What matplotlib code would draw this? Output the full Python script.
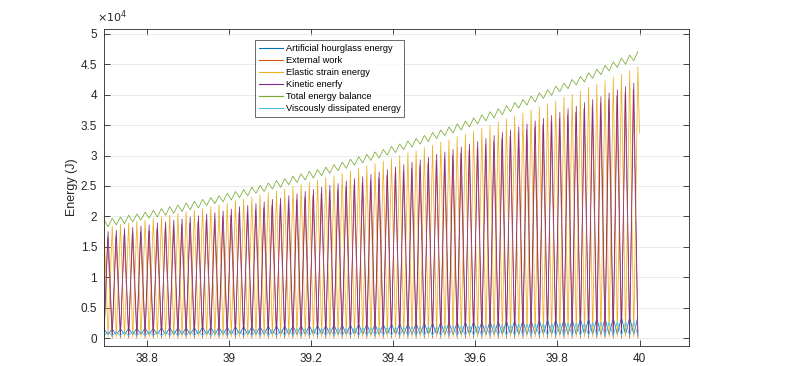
import matplotlib
matplotlib.use("Agg")
import matplotlib.pyplot as plt
import numpy as np

plt.rcParams['font.family'] = ['Liberation Sans', 'DejaVu Sans']

# energies, in units of 1e4 J
# one value per oscillation cycle (period 0.02 s)
t_first = 38.696
t_end = 40.0

elastic_peaks = [1.82, 1.84, 1.87, 1.89, 1.92, 1.94, 1.97, 1.99, 2.02, 2.05,
                 2.08, 2.10, 2.13, 2.16, 2.19, 2.22, 2.26, 2.29, 2.32, 2.35,
                 2.39, 2.42, 2.45, 2.49, 2.53, 2.56, 2.60, 2.64, 2.67, 2.71,
                 2.75, 2.79, 2.83, 2.87, 2.91, 2.95, 3.00, 3.04, 3.08, 3.13,
                 3.17, 3.22, 3.26, 3.31, 3.35, 3.40, 3.45, 3.50, 3.55, 3.60,
                 3.65, 3.70, 3.75, 3.80, 3.85, 3.90, 3.96, 4.01, 4.06, 4.12,
                 4.17, 4.23, 4.29, 4.34, 4.40, 4.46]
elastic_floor = 0.02
elastic_last = 3.37

kinetic_peaks = [1.75, 1.77, 1.80, 1.82, 1.84, 1.86, 1.89, 1.91, 1.94, 1.96,
                 1.99, 2.01, 2.04, 2.06, 2.09, 2.12, 2.16, 2.18, 2.21, 2.24,
                 2.28, 2.30, 2.34, 2.37, 2.41, 2.44, 2.48, 2.51, 2.54, 2.58,
                 2.62, 2.65, 2.69, 2.73, 2.77, 2.81, 2.85, 2.89, 2.93, 2.97,
                 3.02, 3.06, 3.10, 3.14, 3.19, 3.23, 3.28, 3.33, 3.38, 3.42,
                 3.47, 3.52, 3.57, 3.61, 3.66, 3.71, 3.77, 3.81, 3.87, 3.92,
                 3.97, 4.03, 4.08, 4.13, 4.19]
kinetic_floor = 0.05

external_peaks = [1.65, 1.67, 1.70, 1.72, 1.74, 1.76, 1.79, 1.81, 1.84, 1.86,
                  1.89, 1.91, 1.94, 1.96, 1.99, 2.02, 2.06, 2.08, 2.11, 2.14,
                  2.18, 2.20, 2.24, 2.27, 2.31, 2.34, 2.38, 2.41, 2.44, 2.48,
                  2.52, 2.55, 2.59, 2.63, 2.67, 2.71, 2.75, 2.79, 2.83, 2.87,
                  2.92, 2.96, 3.00, 3.04, 3.09, 3.13, 3.18, 3.23, 3.28, 3.32,
                  3.37, 3.42, 3.47, 3.51, 3.56, 3.61, 3.67, 3.71, 3.77, 3.82,
                  3.87, 3.93, 3.98, 4.03, 4.09]
external_floor = 0.0

total_hi = [1.94, 1.97, 1.99, 2.02, 2.04, 2.07, 2.10, 2.13, 2.16, 2.19,
            2.22, 2.25, 2.28, 2.31, 2.34, 2.38, 2.41, 2.44, 2.48, 2.51,
            2.55, 2.59, 2.62, 2.66, 2.70, 2.74, 2.77, 2.81, 2.85, 2.89,
            2.94, 2.98, 3.02, 3.06, 3.10, 3.15, 3.19, 3.24, 3.28, 3.33,
            3.38, 3.42, 3.47, 3.52, 3.57, 3.62, 3.67, 3.72, 3.77, 3.82,
            3.87, 3.92, 3.98, 4.03, 4.08, 4.14, 4.19, 4.25, 4.30, 4.36,
            4.42, 4.48, 4.54, 4.60, 4.65, 4.71]
total_lo = [1.83, 1.86, 1.88, 1.91, 1.94, 1.97, 1.99, 2.02, 2.05, 2.08,
            2.11, 2.14, 2.18, 2.21, 2.24, 2.27, 2.31, 2.34, 2.38, 2.41,
            2.45, 2.48, 2.52, 2.56, 2.60, 2.63, 2.67, 2.71, 2.75, 2.79,
            2.84, 2.88, 2.92, 2.96, 3.01, 3.05, 3.10, 3.14, 3.19, 3.23,
            3.28, 3.33, 3.37, 3.42, 3.47, 3.52, 3.57, 3.62, 3.67, 3.72,
            3.78, 3.83, 3.88, 3.94, 3.99, 4.05, 4.10, 4.16, 4.21, 4.27,
            4.33, 4.39, 4.45, 4.50, 4.56]

hourglass_peaks = [0.15, 0.15, 0.15, 0.16, 0.16, 0.16, 0.16, 0.17, 0.17, 0.17,
                   0.17, 0.17, 0.18, 0.18, 0.18, 0.18, 0.19, 0.19, 0.19, 0.19,
                   0.20, 0.20, 0.20, 0.20, 0.21, 0.21, 0.21, 0.21, 0.22, 0.22,
                   0.22, 0.23, 0.23, 0.23, 0.23, 0.24, 0.24, 0.24, 0.25, 0.25,
                   0.25, 0.26, 0.26, 0.26, 0.27, 0.27, 0.27, 0.28, 0.28, 0.28,
                   0.29, 0.29, 0.29, 0.30, 0.30, 0.31, 0.31, 0.31, 0.32, 0.32,
                   0.33, 0.33, 0.33, 0.34, 0.34, 0.35]
hourglass_floor = 0.06

viscous_peaks = [0.10, 0.10, 0.10, 0.11, 0.11, 0.11, 0.11, 0.11, 0.12, 0.12,
                 0.12, 0.12, 0.12, 0.13, 0.13, 0.13, 0.13, 0.13, 0.14, 0.14,
                 0.14, 0.14, 0.15, 0.15, 0.15, 0.15, 0.16, 0.16, 0.16, 0.16,
                 0.17, 0.17, 0.17, 0.17, 0.18, 0.18, 0.18, 0.19, 0.19, 0.19,
                 0.19, 0.20, 0.20, 0.20, 0.21, 0.21, 0.21, 0.22, 0.22, 0.22,
                 0.23, 0.23, 0.23, 0.24, 0.24, 0.24, 0.25, 0.25, 0.25, 0.26,
                 0.26, 0.26, 0.27, 0.27, 0.27]
viscous_floor = 0.04

labels = ['Artificial hourglass energy', 'External work', 'Elastic strain energy',
          'Kinetic enerfy', 'Total energy balance', 'Viscously dissipated energy']
colors = ['#0072BD', '#D95319', '#EDB120', '#7E2F8E', '#77AC30', '#4DBEEE']

# sample instants: "even" at whole cycles, "odd" half a cycle later
t_even = t_first + 0.02 * np.arange(66)
t_odd = t_first + 0.01 + 0.02 * np.arange(65)


def zigzag(t_a, v_a, t_b, v_b):
    t = np.concatenate([t_a, t_b])
    v = np.concatenate([np.broadcast_to(v_a, t_a.shape), np.broadcast_to(v_b, t_b.shape)])
    idx = np.argsort(t)
    return t[idx], v[idx]


series = [
    zigzag(t_even, hourglass_peaks, t_odd, hourglass_floor),
    zigzag(t_odd - 0.0012, external_peaks, t_even, external_floor),
    zigzag(np.append(t_even, t_end), elastic_peaks + [elastic_last], t_odd, elastic_floor),
    zigzag(t_odd, kinetic_peaks, t_even, kinetic_floor),
    zigzag(t_even, total_hi, t_odd, total_lo),
    zigzag(t_odd, viscous_peaks, t_even, viscous_floor),
]

fig = plt.figure(figsize=(8, 3.66), dpi=100)
ax = fig.add_axes([0.13, 0.0546, 0.731, 0.8662])

for (t, v), c, lab in zip(series, colors, labels):
    ax.plot(t, v, color=c, lw=0.55, label=lab)

ax.set_xlim(38.696, 40.12)
ax.set_ylim(-0.13, 5.08)
xt = [38.8, 39, 39.2, 39.4, 39.6, 39.8, 40]
ax.set_xticks(xt)
ax.set_xticklabels(['38.8', '39', '39.2', '39.4', '39.6', '39.8', '40'])
yt = [0, 0.5, 1, 1.5, 2, 2.5, 3, 3.5, 4, 4.5, 5]
ax.set_yticks(yt)
ax.set_yticklabels(['0', '0.5', '1', '1.5', '2', '2.5', '3', '3.5', '4', '4.5', '5'])

axc = '#262626'
ax.tick_params(direction='in', top=True, right=True, length=4, width=0.6,
               colors=axc, labelsize=8.5, pad=5)
for sp in ax.spines.values():
    sp.set_color(axc)
    sp.set_linewidth(0.6)
ax.yaxis.grid(True, color='#e6e6e6', lw=0.6)
ax.set_axisbelow(True)

ax.set_ylabel('Energy (J)', fontsize=9, color=axc, labelpad=2)
ax.text(-0.012, 1.012, r'$\times10^{4}$', transform=ax.transAxes, fontsize=8,
        color=axc, ha='left', va='bottom')

leg = ax.legend(loc='upper left', bbox_to_anchor=(0.258, 0.965), fontsize=6.7,
                frameon=True, fancybox=False, handlelength=2.6, handletextpad=0.3,
                borderpad=0.4, labelspacing=0.33, borderaxespad=0)
leg.get_frame().set_edgecolor('#262626')
leg.get_frame().set_linewidth(0.6)
for line in leg.get_lines():
    line.set_linewidth(0.8)

fig.savefig('out.png', dpi=100)
